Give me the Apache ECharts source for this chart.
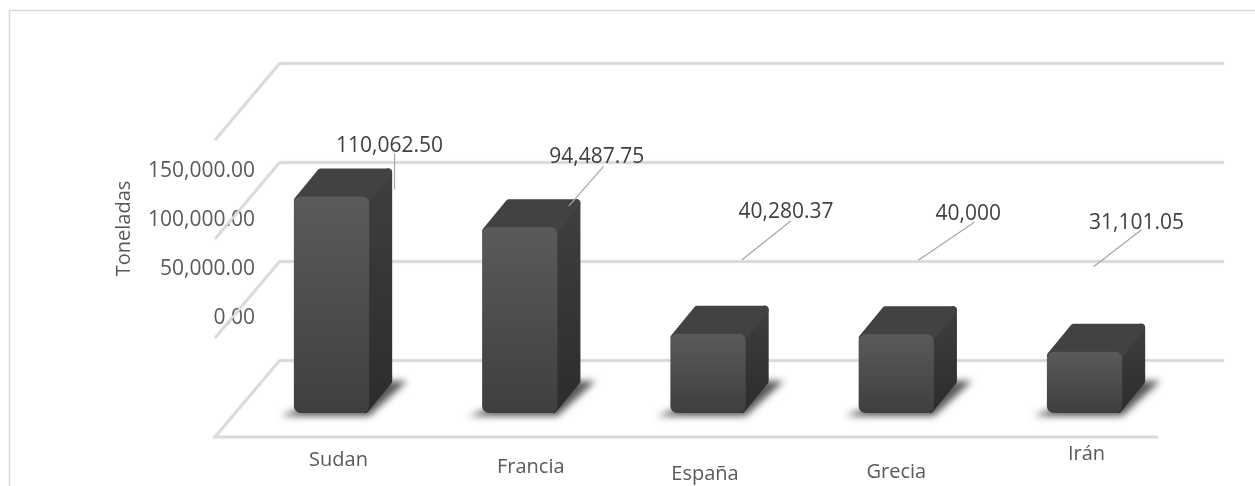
<!DOCTYPE html>
<html>
<head>
<meta charset="utf-8">
<style>html,body{margin:0;padding:0;background:#fff}#c{width:1255px;height:486px}</style>
<script src="https://cdn.jsdelivr.net/npm/echarts@6/dist/echarts.min.js"></script>
</head>
<body>
<div id="c"></div>
<script>
const categories = ['Sudan', 'Francia', 'España', 'Grecia', 'Irán'];
const tonnes = [110062.50, 94487.75, 40280.37, 40000, 31101.05];
const valueLabels = ['110,062.50', '94,487.75', '40,280.37', '40,000', '31,101.05'];
const axisTicks = [0, 50000, 100000, 150000];
const axisName = 'Toneladas';

// Manual label placement, relative to the centre of each bar's top front edge
const labelNudge = [[58, -51], [77, -70], [78, -122], [72, -120], [52, -129]];
const leaderFrom = [[63, -43], [84, -61], [83, -113], [78, -112], [57, -122]];
const leaderTo = [[63, -7], [49, -21], [34, -74], [22, -74], [9, -85]];
const catNudge = [[7, 6], [11, 13], [-3, 20], [0, 18], [2, 0]];

const TEXT = '#595959', GRID = '#d9d9d9', FONT = '"Open Sans"';
const SLANT = [65, 77];
const DEPTH = [23, 28];
const OFF = 3000; // shadow caster sits off-canvas so only its blur shows

function renderSlants(params, api) {
  const cs = params.coordSys;
  const v = api.value(0);
  const y = api.coord([0, v])[1];
  const pts = [[cs.x, y], [cs.x - SLANT[0], y + SLANT[1]]];
  if (v === 0) pts.push([cs.x - SLANT[0] + cs.width - 1, y + SLANT[1]]);
  return {
    type: 'polyline',
    shape: {points: pts},
    style: {stroke: GRID, lineWidth: 2.5, fill: null, shadowBlur: 2, shadowColor: 'rgba(0,0,0,0.12)'},
    silent: true
  };
}

function renderShadow(params, api) {
  const i = api.value(0);
  const base = api.coord([i, 0]);
  const w = api.size([1, 0])[0] * 0.4;
  const l = base[0] - w / 2, r = base[0] + w / 2, y = base[1];
  return {
    type: 'polygon',
    shape: {points: [[l - 13 - OFF, y + 3], [r - OFF, y + 3], [r + 38 - OFF, y - 32], [r - OFF, y - 32]]},
    style: {
      fill: '#555',
      shadowBlur: 7,
      shadowColor: 'rgba(70,70,70,0.9)',
      shadowOffsetX: OFF
    },
    silent: true
  };
}

function vGrad(a, b) {
  return {type: 'linear', x: 0, y: 0, x2: 0, y2: 1, colorStops: [{offset: 0, color: a}, {offset: 1, color: b}]};
}

function renderBar(params, api) {
  const i = api.value(0);
  const top = api.coord([i, api.value(1)]);
  const base = api.coord([i, 0]);
  const w = api.size([1, 0])[0] * 0.4;
  const l = base[0] - w / 2, r = base[0] + w / 2, t = top[1], b = base[1];
  const [dx, dy] = DEPTH;
  const e = 4;
  const sideFill = vGrad('#3f3f3f', '#2c2c2c');
  const topFill = '#424242';
  const frontFill = vGrad('#5a5a5a', '#3f3f3f');
  return {
    type: 'group',
    children: [
      {
        type: 'polygon',
        shape: {points: [[r - 4, t + e], [r + dx - e, t - dy + e], [r + dx - e, b - dy - e], [r - 4, b - e]]},
        style: {fill: sideFill, stroke: sideFill, lineWidth: 2 * e, lineJoin: 'round'}
      },
      {
        type: 'polygon',
        shape: {points: [[l + e, t + e], [l + dx + e, t - dy + e], [r + dx - e, t - dy + e], [r - 4, t + e]]},
        style: {fill: topFill, stroke: topFill, lineWidth: 2 * e, lineJoin: 'round'}
      },
      {
        type: 'rect',
        shape: {x: l, y: t, width: w, height: b - t, r: 7},
        style: {fill: frontFill}
      }
    ]
  };
}

function renderValueLabel(params, api) {
  const i = api.value(0);
  const base = api.coord([i, api.value(1)]);
  const n = labelNudge[i], f = leaderFrom[i], t = leaderTo[i];
  return {
    type: 'group',
    children: [
      {
        type: 'line',
        shape: {x1: base[0] + f[0], y1: base[1] + f[1], x2: base[0] + t[0], y2: base[1] + t[1]},
        style: {stroke: '#a6a6a6', lineWidth: 1.2}
      },
      {
        type: 'text',
        style: {
          x: base[0] + n[0], y: base[1] + n[1], text: valueLabels[i],
          fill: '#404040', font: '21px ' + FONT, align: 'center', verticalAlign: 'middle'
        }
      }
    ]
  };
}

const rich = {};
catNudge.forEach((c, i) => {
  rich['c' + i] = {
    color: TEXT, fontFamily: FONT, fontSize: 20,
    padding: [c[1], c[0] < 0 ? -c[0] * 2 : 0, 0, c[0] > 0 ? c[0] * 2 : 0]
  };
});

const barData = tonnes.map((v, i) => [i, v]);
const tickData = axisTicks.map(v => [v]);

const chart = echarts.init(document.getElementById('c'), null, {renderer: 'canvas'});
chart.setOption({
  animation: false,
  backgroundColor: '#fff',
  graphic: [{
    type: 'polyline',
    shape: {points: [[9.5, 486], [9.5, 10.5], [1255, 10.5]]},
    style: {stroke: '#d9d9d9', lineWidth: 1.5, fill: null},
    silent: true
  }],
  grid: [
    {left: 280, top: 63, width: 944, height: 297, outerBoundsMode: 'none'},
    {left: 237.4, top: 118, width: 941.25, height: 295, outerBoundsMode: 'none'},
    {left: 258, top: 171, width: 10, height: 147, outerBoundsMode: 'none'}
  ],
  xAxis: [
    {gridIndex: 0, type: 'category', data: categories, show: false},
    {
      gridIndex: 1, type: 'category', data: categories,
      axisLine: {show: false}, axisTick: {show: false},
      axisLabel: {
        margin: 31, interval: 0,
        formatter: (v, i) => '{c' + i + '|' + v + '}',
        rich: rich
      }
    },
    {gridIndex: 2, type: 'category', data: categories, show: false}
  ],
  yAxis: [
    {
      gridIndex: 0, type: 'value', min: 0, max: 150000, interval: 50000,
      axisLine: {show: false}, axisTick: {show: false}, axisLabel: {show: false},
      splitLine: {show: true, lineStyle: {color: GRID, width: 2.5, shadowBlur: 2, shadowColor: 'rgba(0,0,0,0.12)'}}
    },
    {gridIndex: 1, type: 'value', min: 0, max: 150000, interval: 50000, show: false},
    {
      gridIndex: 2, type: 'value', min: 0, max: 150000, interval: 50000,
      axisLine: {show: false}, axisTick: {show: false}, splitLine: {show: false},
      axisLabel: {
        margin: 3, color: TEXT, fontFamily: FONT, fontSize: 21,
        formatter: v => v.toLocaleString('en-US', {minimumFractionDigits: 2, maximumFractionDigits: 2})
      },
      name: axisName, nameLocation: 'middle', nameGap: 124,
      nameTextStyle: {color: TEXT, fontFamily: FONT, fontSize: 20, padding: [0, 0, 0, 32]}
    }
  ],
  series: [
    {type: 'custom', name: 'floor', xAxisIndex: 0, yAxisIndex: 0, data: tickData, encode: {y: 0}, renderItem: renderSlants, z: 1, silent: true},
    {type: 'custom', name: 'shadow', xAxisIndex: 1, yAxisIndex: 1, data: barData, encode: {x: 0, y: 1}, renderItem: renderShadow, z: 2, silent: true},
    {type: 'custom', name: 'Toneladas', xAxisIndex: 1, yAxisIndex: 1, data: barData, encode: {x: 0, y: 1}, renderItem: renderBar, z: 3},
    {type: 'custom', name: 'labels', xAxisIndex: 1, yAxisIndex: 1, data: barData, encode: {x: 0, y: 1}, renderItem: renderValueLabel, z: 4, silent: true}
  ]
});
</script>
</body>
</html>
